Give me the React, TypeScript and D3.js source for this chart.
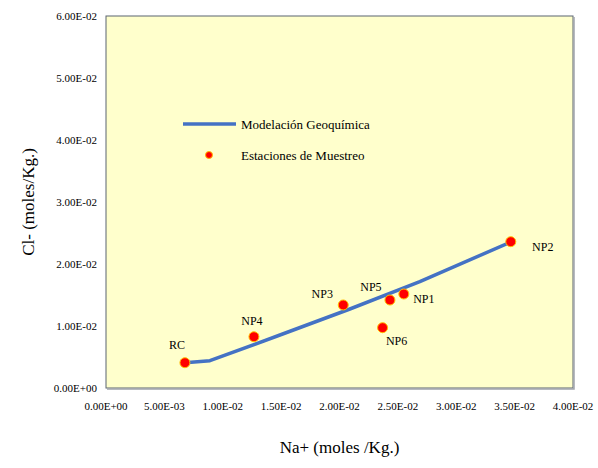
import React from "react";
import * as d3 from "d3";

const stationNames = ["RC", "NP4", "NP3", "NP5", "NP1", "NP6", "NP2"];
const stationNa = [0.00676, 0.01267, 0.02032, 0.02432, 0.02551, 0.02369, 0.03467];
const stationCl = [0.00408, 0.00827, 0.01339, 0.01419, 0.01516, 0.00973, 0.0236];

const modelNa = [0.00676, 0.0089, 0.0149, 0.02089, 0.02688, 0.03467];
const modelCl = [0.00408, 0.0044, 0.00855, 0.01274, 0.01715, 0.02355];

const xTicks = [0, 0.005, 0.01, 0.015, 0.02, 0.025, 0.03, 0.035, 0.04];
const yTicks = [0, 0.01, 0.02, 0.03, 0.04, 0.05, 0.06];

const legendLabels = ["Modelación Geoquímica", "Estaciones de Muestreo"];

// label placement (dx, dy) relative to each point
const labelOffsets: Record<string, [number, number]> = {
  RC: [-8, -14],
  NP4: [-2, -12],
  NP3: [-21, -7],
  NP5: [-19, -9],
  NP1: [20, 9],
  NP6: [14, 17],
  NP2: [32, 9],
};

const W = 598;
const H = 468;
const M = { left: 106, top: 16, right: 25, bottom: 80 };
const SERIF = { fontFamily: '"Liberation Serif"' };

function fmtExp(v: number): string {
  if (v === 0) return "0.00E+00";
  const s = v.toExponential(2).toUpperCase();
  const m = s.match(/^([\d.]+)E([+-])(\d+)$/);
  if (!m) return s;
  return `${m[1]}E${m[2]}${m[3].padStart(2, "0")}`;
}

export default function App() {
  const x = d3.scaleLinear().domain([0, 0.04]).range([M.left, W - M.right]);
  const y = d3.scaleLinear().domain([0, 0.06]).range([H - M.bottom, M.top]);

  const modelData = modelNa.map((v, i) => [v, modelCl[i]] as [number, number]);
  const linePath =
    d3
      .line<[number, number]>()
      .x((d) => x(d[0]))
      .y((d) => y(d[1]))(modelData) || "";

  const pts = stationNames.map((n, i) => ({ n, x: stationNa[i], y: stationCl[i] }));

  return (
    <svg width={W} height={H} style={{ position: "absolute", left: 0, top: 0 }}>
      <style>{`text { font-family: "Liberation Serif", "Times New Roman", Tinos, serif; }`}</style>
      <rect width={W} height={H} fill="#ffffff" />
      <rect
        x={x(0)}
        y={y(0.06)}
        width={x(0.04) - x(0)}
        height={y(0) - y(0.06)}
        fill="#FFFFCC"
        stroke="#5b6470"
        strokeWidth={1}
      />
      <path
        d={`M${x(0.04) + 1},${y(0.06) + 1}V${y(0) + 1}H${x(0) + 1}`}
        fill="none"
        stroke="#a0a4aa"
        strokeWidth={1.5}
      />

      {yTicks.map((d) => (
        <text key={"y" + d} x={x(0) - 9} y={y(d) + 4} textAnchor="end" fontSize={11} style={SERIF}>
          {fmtExp(d)}
        </text>
      ))}
      {xTicks.map((d) => (
        <text key={"x" + d} x={x(d)} y={y(0) + 22} textAnchor="middle" fontSize={11} style={SERIF}>
          {fmtExp(d)}
        </text>
      ))}

      <text
        transform={`translate(34,${(y(0) + y(0.06)) / 2}) rotate(-90)`}
        textAnchor="middle"
        fontSize={17}
        style={SERIF}
      >
        Cl- (moles/Kg.)
      </text>
      <text x={(x(0) + x(0.04)) / 2} y={453} textAnchor="middle" fontSize={17} style={SERIF}>
        Na+ (moles /Kg.)
      </text>

      <path d={linePath} fill="none" stroke="#4472C4" strokeWidth={3.5} strokeLinejoin="round" />

      {pts.map((d) => (
        <circle
          key={"c" + d.n}
          cx={x(d.x)}
          cy={y(d.y)}
          r={5}
          fill="#FF0000"
          stroke="#FFC000"
          strokeWidth={1}
        />
      ))}
      {pts.map((d) => (
        <text
          key={"t" + d.n}
          x={x(d.x) + labelOffsets[d.n][0]}
          y={y(d.y) + labelOffsets[d.n][1]}
          textAnchor="middle"
          fontSize={12}
          style={SERIF}
        >
          {d.n}
        </text>
      ))}

      <line x1={183} x2={236} y1={124} y2={124} stroke="#4472C4" strokeWidth={3.5} />
      <circle cx={209} cy={155} r={3.5} fill="#FF0000" stroke="#FFC000" strokeWidth={1} />
      {legendLabels.map((d, i) => (
        <text key={d} x={241} y={128.5 + i * 31} fontSize={13} style={SERIF}>
          {d}
        </text>
      ))}
    </svg>
  );
}
